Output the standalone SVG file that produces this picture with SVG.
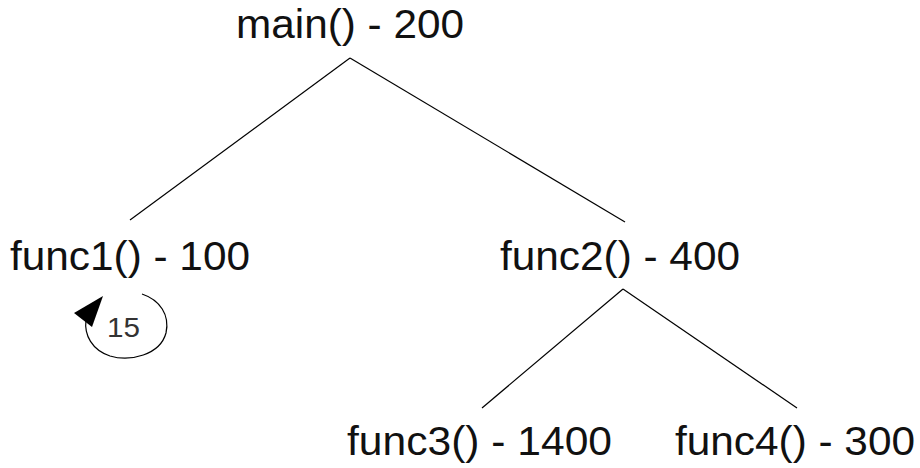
<svg xmlns="http://www.w3.org/2000/svg" width="920" height="468" viewBox="0 0 920 468">
  <defs>
    <style>
      .lbl { font-family: "Liberation Sans", Arial, sans-serif; font-size: 40px; fill: #111; }
      .cnt { font-family: "Liberation Sans", Arial, sans-serif; font-size: 28px; fill: #333; }
      .edge { stroke: #000; stroke-width: 1.2; fill: none; }
    </style>
  </defs>
  <rect width="920" height="468" fill="#fff"/>
  <g id="connectors">
    <line class="edge" x1="350" y1="58" x2="130" y2="220"/>
    <line class="edge" x1="350" y1="58" x2="625" y2="222"/>
    <line class="edge" x1="623" y1="289" x2="482" y2="408"/>
    <line class="edge" x1="623" y1="289" x2="797" y2="408"/>
    <path class="edge" d="M142 294 C160 300 170 315 166 333 C160 355 130 362 110 356 C92 350 84 335 86 320"/>
    <polygon points="103,296 74,313 92,327" fill="#000"/>
    <text class="cnt" x="107" y="337" textLength="33" lengthAdjust="spacingAndGlyphs">15</text>
  </g>
  <g id="main"><text class="lbl" x="236" y="38" textLength="228" lengthAdjust="spacingAndGlyphs">main() - 200</text></g>
  <g id="func1"><text class="lbl" x="10" y="270" textLength="240" lengthAdjust="spacingAndGlyphs">func1() - 100</text></g>
  <g id="func2"><text class="lbl" x="500" y="270" textLength="240" lengthAdjust="spacingAndGlyphs">func2() - 400</text></g>
  <g id="func3"><text class="lbl" x="347" y="455" textLength="265" lengthAdjust="spacingAndGlyphs">func3() - 1400</text></g>
  <g id="func4"><text class="lbl" x="675" y="455" textLength="240" lengthAdjust="spacingAndGlyphs">func4() - 300</text></g>
</svg>
